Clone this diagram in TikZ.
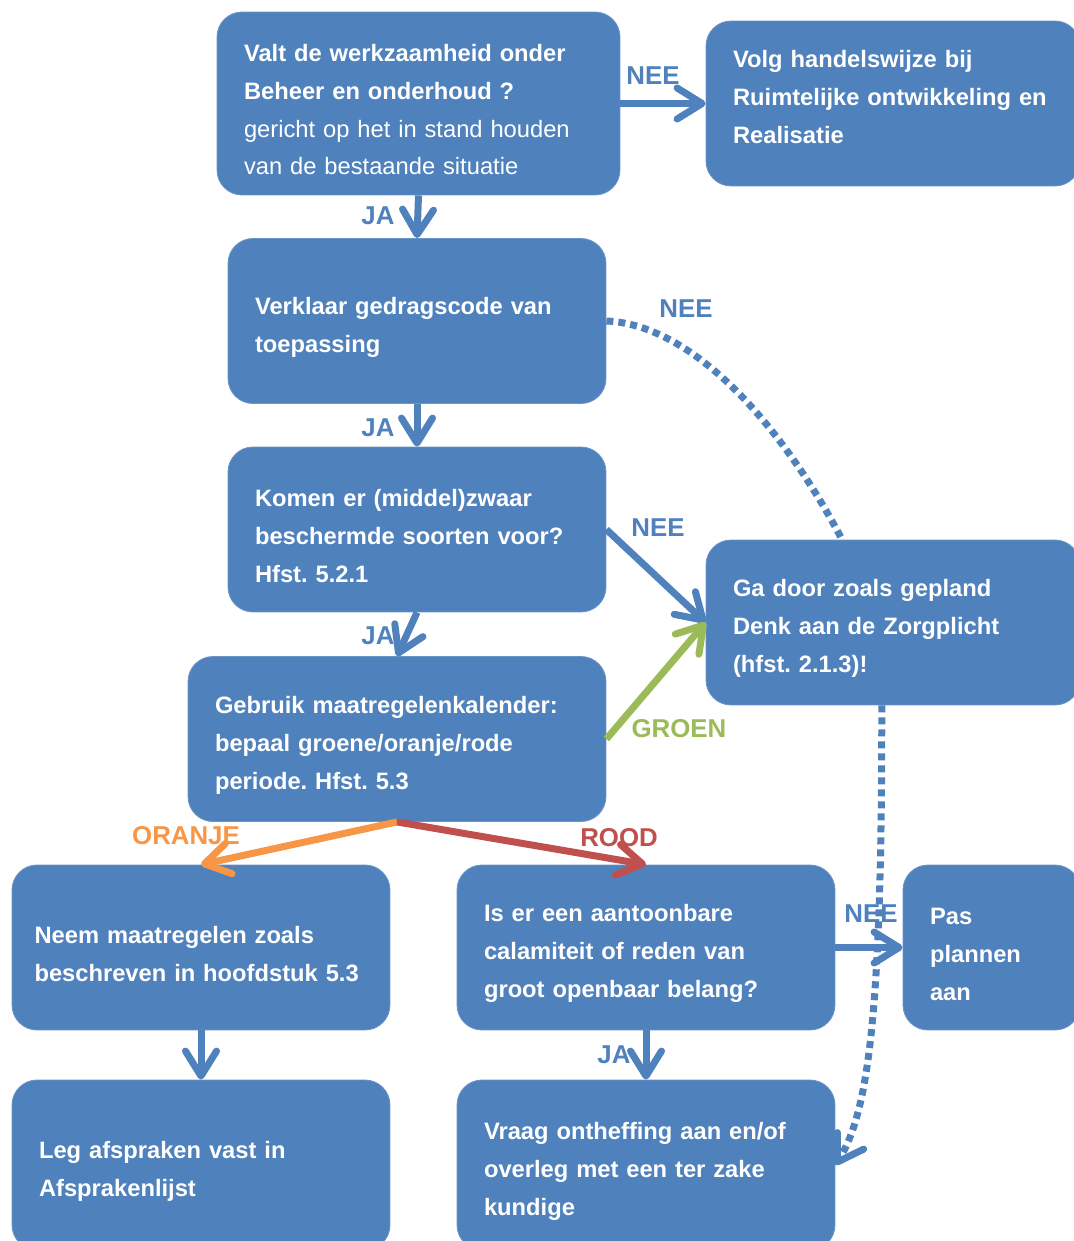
\documentclass[tikz,border=0pt]{standalone}
\usepackage{fontspec}
\setmainfont{Liberation Sans}
\usepackage{tikz}
\definecolor{boxblue}{HTML}{4F81BD}
\definecolor{oranje}{HTML}{F79646}
\definecolor{rood}{HTML}{C0504D}
\definecolor{groen}{HTML}{9BBB59}
\usetikzlibrary{arrows.meta, calc}
\frenchspacing

\begin{document}
\begin{tikzpicture}[
  x=0.02cm, y=-0.02cm,
  box/.style={fill=boxblue, draw=boxblue!85!white, line width=0.5pt, rounded corners=0.5cm, text=white,
    inner xsep=0.54cm, inner ysep=0pt, minimum height=3.3cm, text width=6.48cm, align=left,
    font=\fontsize{13.5}{21.6}\selectfont\bfseries, execute at begin node={\rule{0pt}{16.7pt}}},
  lbl/.style={font=\fontsize{14.7}{16}\selectfont\bfseries, text=boxblue, inner sep=1pt},
  arr/.style={-{Straight Barb[length=0.5cm, width=0.62cm, round]}, line width=0.14cm, boxblue},
  dots/.style={line width=0.14cm, boxblue, dash pattern=on 0.14cm off 0.1cm},
]
\useasboundingbox (0,0) rectangle (1073,1241);

% Vragen en stappen
\node[box, minimum width=8.06cm, text width=6.98cm, minimum height=3.66cm] (beheer) at (418.5, 103.5)
  {Valt de werkzaamheid onder\\Beheer en onderhoud ?\\\mdseries gericht op het in stand houden\\\mdseries van de bestaande situatie};
\node[box, minimum width=7.48cm, text width=6.4cm, execute at end node={\rule[-14.8pt]{0pt}{14.8pt}}] (volg) at (893, 103.5)
  {Volg handelswijze bij\\Ruimtelijke ontwikkeling en\\Realisatie};
\node[box, minimum width=7.56cm] (verklaar) at (417, 321)
  {Verklaar gedragscode van\\toepassing};
\node[box, minimum width=7.56cm] (komen) at (417, 529.5)
  {Komen er (middel)zwaar\\beschermde soorten voor?\\Hfst. 5.2.1};
\node[box, minimum width=7.48cm, text width=6.4cm] (gadoor) at (893, 622.5)
  {Ga door zoals gepland\\Denk aan de Zorgplicht\\(hfst. 2.1.3)!};
\node[box, minimum width=8.36cm, text width=7.28cm] (kalender) at (397, 739)
  {Gebruik maatregelenkalender:\\bepaal groene/oranje/rode\\periode. Hfst. 5.3};
\node[box, minimum width=7.56cm, text width=6.66cm, inner xsep=0.45cm] (neem) at (201, 947.5)
  {Neem maatregelen zoals\\beschreven in hoofdstuk 5.3};
\node[box, minimum width=7.56cm] (calamiteit) at (646, 947.5)
  {Is er een aantoonbare\\calamiteit of reden van\\groot openbaar belang?};
\node[box, minimum width=3.54cm, text width=2.46cm] (pas) at (991.5, 947.5)
  {Pas\\plannen\\aan};
\node[box, minimum width=7.56cm, minimum height=3.4cm] (leg) at (201, 1165)
  {Leg afspraken vast in\\Afsprakenlijst};
\node[box, minimum width=7.56cm, minimum height=3.4cm] (vraag) at (646, 1165)
  {Vraag ontheffing aan en/of\\overleg met een ter zake\\kundige};

% Labels
\node[lbl] (nee1) at (653, 76) {NEE};
\node[lbl] (ja1) at (378, 216) {JA};
\node[lbl] (nee2) at (686, 309) {NEE};
\node[lbl] (ja2) at (378, 428) {JA};
\node[lbl] (nee3) at (658, 528) {NEE};
\node[lbl] (ja3) at (378, 636) {JA};
\node[lbl, text=groen] (groen) at (679, 729) {GROEN};
\node[lbl, text=oranje] (oranje) at (186, 836) {ORANJE};
\node[lbl, text=rood] (rood) at (619, 838) {ROOD};
\node[lbl] (nee4) at (871, 914) {NEE};
\node[lbl] (ja4) at (614, 1055) {JA};

% Pijlen
\draw[arr] (beheer) -- (volg);
\draw[arr] (beheer.south) -- (verklaar.north);
\draw[arr] (verklaar.south) -- (komen.north);
\draw[arr] (komen.south) -- (kalender.north);
\draw[arr] (komen.east) -- (gadoor.west);
\draw[arr, groen] (kalender.east) -- (gadoor.west);
\draw[arr, oranje] (kalender.south) -- (neem.north);
\draw[arr, rood] (kalender.south) -- (calamiteit.north);
\draw[arr] (calamiteit) -- (pas);
\draw[arr] (neem) -- (leg);
\draw[arr] (calamiteit) -- (vraag);

% Stippellijnen
\draw[dots] (verklaar.east) .. controls (700, 325) and (790, 440) .. ($(gadoor.north west)!0.364!(gadoor.north east)$);
\draw[dots, -{Straight Barb[length=0.5cm, width=0.62cm, round]}] ($(gadoor.south west)!0.47!(gadoor.south east)$)
  .. controls (882, 1000) and (870, 1110) .. (vraag.east);

\end{tikzpicture}
\end{document}
